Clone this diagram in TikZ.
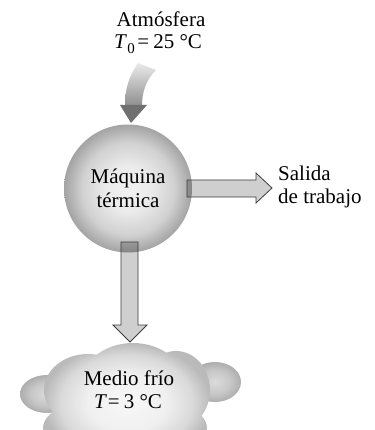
\documentclass[tikz,border=0pt]{standalone}
\usepackage{fontspec}
\setmainfont{Liberation Serif}
\definecolor{bodyline}{HTML}{3C3C3C}
\definecolor{headc}{HTML}{707070}
\definecolor{tailtop}{HTML}{EAEAEA}
\definecolor{tailbot}{HTML}{8E8E8E}
\pgfdeclareradialshading{ballshade}{\pgfpoint{0bp}{0bp}}{%
  color(0bp)=(white!95!black); color(9bp)=(white!92!black);
  color(18bp)=(white!82!black); color(25bp)=(white!64!black); color(50bp)=(white!64!black)}
\pgfdeclareradialshading{cloudshade}{\pgfpoint{0bp}{0bp}}{%
  color(0bp)=(white!97!black); color(12bp)=(white!94!black);
  color(20bp)=(white!85!black); color(25bp)=(white!73!black); color(50bp)=(white!73!black)}
\pgfdeclareradialshading{lobeshade}{\pgfpoint{0bp}{0bp}}{%
  color(0bp)=(white!86!black); color(15bp)=(white!78!black);
  color(25bp)=(white!68!black); color(50bp)=(white!68!black)}
\begin{document}
\begin{tikzpicture}[x=1pt,y=-1pt,
  lbl/.style={font=\fontsize{21}{24}\selectfont, inner sep=0pt, anchor=base},
  bigarrow/.style={draw=bodyline, line width=0.8pt, fill=black, fill opacity=0.19, line join=miter}]
\useasboundingbox (0,0) rectangle (374,430);
% cloud (cold medium)
\begin{scope}
  \clip (0,0) rectangle (374,430);
  \shade[shading=lobeshade] (47,394) ellipse (27 and 19);
  \shade[shading=lobeshade] (215,382) ellipse (26 and 20);
  \shade[shading=cloudshade]
    (88,390) ellipse (44 and 36)
    (133,390) ellipse (55 and 47)
    (176,390) ellipse (34 and 39)
    (125,428) ellipse (82 and 34);
\end{scope}
% heat engine
\shade[shading=ballshade] (128,188.5) circle (64);
% heat input arrow from atmosphere
\coordinate (tailL) at (138,63);
\coordinate (tailR) at (156,70);
\shade[top color=tailtop, bottom color=tailbot]
  (tailL) .. controls (128,78) and (125,90) .. (125,106)
  -- (142,106) .. controls (142,92) and (146,80) .. (tailR) -- cycle;
\fill[headc] (120,105) -- (147,105) -- (131,123) -- cycle;
% work output arrow
\draw[bigarrow] (187,180) -- (256,180) -- (256,173) -- (272,188) -- (256,203)
  -- (256,197) -- (187,197) -- cycle;
% heat rejection arrow
\draw[bigarrow] (121,242) -- (138,242) -- (138,325) -- (147,325) -- (130,342)
  -- (113,325) -- (121,325) -- cycle;
% labels
\node[lbl] (atm) at (161,27) {Atmósfera};
\node[lbl] (t0) at (158,49) {\textit{T}\kern0.5pt\raisebox{-4.5pt}{\fontsize{15}{15}\selectfont 0}\kern2.5pt=\kern4pt25~°C};
\node[lbl] (maq) at (128,184) {Máquina};
\node[lbl] (term) at (128,207) {térmica};
\node[lbl, anchor=base west] (sal) at (278,181) {Salida};
\node[lbl, anchor=base west] (trab) at (278,204) {de trabajo};
\node[lbl] (medio) at (129,385) {Medio frío};
\node[lbl] (tfrio) at (128,408) {\textit{T}\kern1pt=\kern4pt3~°C};
\end{tikzpicture}
\end{document}
